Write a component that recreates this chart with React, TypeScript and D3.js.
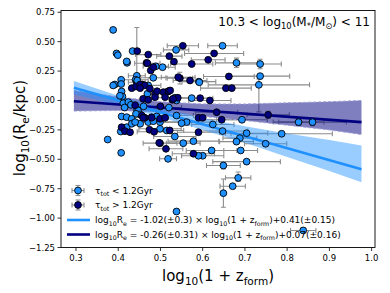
import React from 'react';
import * as d3 from 'd3';

const xTicks = [0.3, 0.4, 0.5, 0.6, 0.7, 0.8, 0.9, 1.0];
const yTicks = [0.75, 0.5, 0.25, 0, -0.25, -0.5, -0.75, -1.0, -1.25];

// [x, y, xerr, yerrDown, yerrUp]
const lightPoints: number[][] = [
  [0.388, 0.60, 0, 0, 0], [0.396, 0.40, 0, 0, 0], [0.399, 0.385, 0, 0, 0], [0.434, 0.42, 0, 0, 0],
  [0.421, 0.32, 0, 0, 0], [0.489, 0.29, 0.03, 0, 0], [0.444, 0.21, 0.02, 0.05, 0.41], [0.537, 0.43, 0.03, 0, 0],
  [0.647, 0.465, 0.035, 0, 0], [0.68, 0.32, 0.05, 0.04, 0.04], [0.736, 0.31, 0.05, 0.04, 0.04], [0.505, 0.283, 0.03, 0, 0],
  [0.42, 0.332, 0, 0, 0], [0.591, 0.16, 0.04, 0, 0], [0.736, 0.207, 0.07, 0, 0], [0.733, 0.133, 0.12, 0.23, 0.05],
  [0.483, 0.193, 0.03, 0, 0], [0.441, 0.176, 0.03, 0, 0], [0.407, 0.176, 0, 0, 0], [0.392, 0.136, 0, 0, 0],
  [0.407, 0.14, 0, 0, 0], [0.444, 0.155, 0.02, 0, 0], [0.408, 0.077, 0, 0, 0], [0.41, 0.034, 0, 0, 0],
  [0.388, 0.128, 0, 0, 0], [0.445, 0.17, 0, 0, 0], [0.471, 0.128, 0.03, 0, 0], [0.469, 0.057, 0, 0, 0],
  [0.404, 0.04, 0, 0, 0], [0.412, -0.023, 0, 0, 0], [0.424, -0.014, 0, 0, 0], [0.43, -0.037, 0, 0, 0],
  [0.445, -0.079, 0, 0, 0], [0.534, 0.023, 0.04, 0, 0], [0.538, 0.0, 0, 0, 0], [0.592, 0.155, 0, 0, 0],
  [0.574, 0.02, 0.05, 0, 0], [0.447, -0.085, 0, 0, 0], [0.452, -0.119, 0, 0, 0], [0.442, -0.113, 0, 0, 0],
  [0.408, -0.136, 0, 0, 0], [0.42, -0.142, 0, 0, 0], [0.432, -0.156, 0, 0, 0], [0.479, -0.142, 0.04, 0, 0],
  [0.491, -0.136, 0, 0, 0], [0.538, -0.128, 0.04, 0, 0], [0.452, -0.198, 0, 0, 0], [0.471, -0.184, 0, 0, 0],
  [0.483, -0.176, 0, 0, 0], [0.499, -0.184, 0.05, 0, 0], [0.562, -0.184, 0.06, 0, 0], [0.55, -0.193, 0, 0, 0],
  [0.406, -0.264, 0, 0, 0], [0.42, -0.227, 0, 0, 0], [0.432, -0.198, 0, 0, 0], [0.44, -0.184, 0, 0, 0],
  [0.499, -0.241, 0.05, 0, 0], [0.515, -0.255, 0.04, 0, 0], [0.534, -0.306, 0.05, 0, 0], [0.578, -0.346, 0.06, 0, 0],
  [0.554, -0.363, 0.04, 0, 0], [0.693, -0.164, 0.06, 0, 0], [0.827, -0.184, 0.06, 0.03, 0.03], [0.86, -0.184, 0.08, 0.03, 0.03],
  [0.787, -0.283, 0.12, 0, 0], [0.749, -0.368, 0.05, 0, 0], [0.704, -0.278, 0.05, 0, 0], [0.688, -0.32, 0.04, 0, 0],
  [0.68, -0.35, 0.04, 0, 0], [0.69, -0.425, 0.04, 0, 0], [0.704, -0.52, 0.08, 0, 0], [0.649, -0.553, 0.04, 0.03, 0.03],
  [0.684, -0.658, 0.03, 0.03, 0.05], [0.6, -0.47, 0.05, 0, 0], [0.59, -0.47, 0, 0, 0], [0.518, -0.496, 0.02, 0, 0],
  [0.407, -0.445, 0, 0, 0], [0.375, -0.332, 0, 0, 0], [0.621, -0.425, 0.06, 0, 0], [0.647, -0.26, 0.06, 0, 0],
  [0.624, -0.204, 0.05, 0, 0], [0.671, -0.729, 0.03, 0, 0], [0.649, -0.788, 0, 0.12, 0.12], [0.538, -0.944, 0, 0, 0],
  [0.838, -1.105, 0.03, 0.02, 0.02], [0.415, -0.06, 0, 0, 0], [0.46, -0.05, 0, 0, 0], [0.52, -0.06, 0.03, 0, 0],
];

const darkPoints: number[][] = [
  [0.445, 0.42, 0, 0, 0], [0.471, 0.39, 0.03, 0, 0], [0.467, 0.32, 0, 0, 0], [0.477, 0.255, 0, 0, 0],
  [0.553, 0.465, 0.037, 0, 0], [0.627, 0.40, 0.07, 0, 0], [0.521, 0.377, 0.03, 0, 0], [0.613, 0.346, 0.04, 0, 0],
  [0.532, 0.33, 0, 0, 0], [0.574, 0.31, 0.05, 0, 0], [0.469, 0.317, 0.03, 0, 0], [0.483, 0.283, 0, 0, 0],
  [0.546, 0.19, 0.03, 0.05, 0.05], [0.57, 0.17, 0.04, 0, 0], [0.662, 0.204, 0.06, 0, 0], [0.655, 0.105, 0.06, 0, 0],
  [0.669, 0.105, 0, 0, 0], [0.518, 0.077, 0, 0, 0], [0.541, 0.023, 0, 0, 0], [0.528, 0.006, 0, 0, 0],
  [0.594, 0.02, 0, 0, 0], [0.617, 0.0, 0.05, 0, 0], [0.457, 0.136, 0, 0, 0], [0.432, 0.105, 0, 0, 0],
  [0.442, 0.119, 0, 0, 0], [0.452, 0.136, 0, 0, 0], [0.463, 0.128, 0, 0, 0], [0.487, 0.057, 0, 0, 0],
  [0.492, 0.079, 0, 0, 0], [0.459, 0.014, 0, 0, 0], [0.471, 0.006, 0, 0, 0], [0.507, 0.071, 0, 0, 0],
  [0.519, 0.079, 0, 0, 0], [0.542, 0.198, 0.04, 0, 0], [0.633, -0.1, 0.05, 0, 0], [0.456, -0.128, 0, 0, 0],
  [0.463, -0.147, 0, 0, 0], [0.499, -0.156, 0, 0, 0], [0.511, -0.147, 0, 0, 0], [0.408, -0.227, 0, 0, 0],
  [0.416, -0.261, 0, 0, 0], [0.428, -0.27, 0, 0, 0], [0.474, -0.249, 0, 0, 0], [0.485, -0.266, 0.04, 0, 0],
  [0.499, -0.363, 0.04, 0, 0], [0.513, -0.411, 0.04, 0, 0], [0.578, -0.453, 0.05, 0, 0], [0.522, -0.255, 0, 0, 0],
  [0.59, -0.27, 0.05, 0, 0], [0.59, -0.147, 0, 0, 0], [0.6, -0.147, 0, 0, 0], [0.645, -0.164, 0.05, 0, 0],
  [0.755, -0.122, 0.05, 0.03, 0.03], [0.459, -0.147, 0, 0, 0], [0.479, -0.147, 0, 0, 0], [0.523, 0.085, 0, 0, 0],
  [0.487, 0.028, 0, 0, 0], [0.511, 0.028, 0, 0, 0], [0.53, 0.014, 0, 0, 0], [0.452, 0.105, 0, 0, 0],
  [0.475, 0.1, 0, 0, 0], [0.5, -0.05, 0, 0, 0], [0.44, -0.04, 0, 0, 0], [0.497, -0.36, 0, 0, 0],
];

const fitSlopes = [-1.02, -0.26];
const fitIntercepts = [0.41, 0.07];
const fitRange = [0.295, 0.976];

const bandX = [0.295, 0.4, 0.5, 0.6, 0.7, 0.8, 0.9, 0.976];
const lightHi = [0.165, 0.04, -0.06, -0.15, -0.22, -0.28, -0.335, -0.383];
const lightLo = [0.05, -0.04, -0.14, -0.25, -0.36, -0.48, -0.6, -0.695];
const darkHi = [0.085, 0.03, -0.01, -0.03, -0.03, -0.02, -0.01, 0.0];
const darkLo = [-0.09, -0.085, -0.1, -0.135, -0.17, -0.21, -0.25, -0.29];

const LIGHT = '#1E90FF';
const DARK = '#000080';
const FONT = 'DejaVu Sans';

type Part = [string, string];

function Rich({ x, y, parts, size, anchor = 'start', transform }: { x: number; y: number; parts: Part[]; size: number; anchor?: string; transform?: string }) {
  let cur = 0;
  return (
    <text x={x} y={y} fontSize={size} fontFamily={FONT} textAnchor={anchor} transform={transform} style={{ whiteSpace: 'pre' }}>
      {parts.map(([t, k], i) => {
        const target = k === 's' ? size * 0.28 : 0;
        const dy = target - cur;
        cur = target;
        return (
          <tspan key={i} dy={dy} fontSize={k === 's' ? size * 0.7 : size} fontStyle={k === 'i' ? 'italic' : 'normal'}>{t}</tspan>
        );
      })}
    </text>
  );
}

export default function App() {
  const W = 390, H = 293;
  const x = d3.scaleLinear().domain([0.2645, 1.008]).range([61, 375]);
  const y = d3.scaleLinear().domain([-1.25, 0.765]).range([247.5, 10.5]);

  const area = (lo: number[], hi: number[]) =>
    d3.area<number>().x((d) => x(d)).y0((_, i) => y(lo[i])).y1((_, i) => y(hi[i]))(bandX) || '';
  const edge = (v: number[]) => d3.line<number>().x((d) => x(d)).y((_, i) => y(v[i]))(bandX) || '';

  const renderErr = (pts: number[][]) => (
    <g stroke="#8c8c8c" strokeWidth={1.1}>
      {pts.map((p, i) => (
        <g key={'e' + i}>
          {p[2] > 0 && (
            <g>
              <line x1={x(p[0] - p[2])} x2={x(p[0] + p[2])} y1={y(p[1])} y2={y(p[1])} />
              <line x1={x(p[0] - p[2])} x2={x(p[0] - p[2])} y1={y(p[1]) - 2.5} y2={y(p[1]) + 2.5} />
              <line x1={x(p[0] + p[2])} x2={x(p[0] + p[2])} y1={y(p[1]) - 2.5} y2={y(p[1]) + 2.5} />
            </g>
          )}
          {(p[3] > 0 || p[4] > 0) && (
            <g>
              <line x1={x(p[0])} x2={x(p[0])} y1={y(p[1] - p[3])} y2={y(p[1] + p[4])} />
              <line x1={x(p[0]) - 2.5} x2={x(p[0]) + 2.5} y1={y(p[1] - p[3])} y2={y(p[1] - p[3])} />
              <line x1={x(p[0]) - 2.5} x2={x(p[0]) + 2.5} y1={y(p[1] + p[4])} y2={y(p[1] + p[4])} />
            </g>
          )}
        </g>
      ))}
    </g>
  );
  const renderDots = (pts: number[][], fill: string) => (
    <g>
      {pts.map((p, i) => (
        <circle key={'c' + i} cx={x(p[0])} cy={y(p[1])} r={3.4} fill={fill} stroke="#000" strokeWidth={0.9} />
      ))}
    </g>
  );

  const fitLine = (k: number) => {
    const f = (v: number) => fitSlopes[k] * v + fitIntercepts[k];
    return d3.line<number>().x((d) => x(d)).y((d) => y(f(d)))(fitRange) || '';
  };

  const legendMarker = (cx: number, cy: number, fill: string) => (
    <g>
      <g stroke="#8c8c8c" strokeWidth={1.1}>
        <line x1={cx - 6} x2={cx + 6} y1={cy} y2={cy} />
        <line x1={cx - 6} x2={cx - 6} y1={cy - 2.5} y2={cy + 2.5} />
        <line x1={cx + 6} x2={cx + 6} y1={cy - 2.5} y2={cy + 2.5} />
        <line x1={cx} x2={cx} y1={cy - 5} y2={cy + 5} />
        <line x1={cx - 2.5} x2={cx + 2.5} y1={cy - 5} y2={cy - 5} />
        <line x1={cx - 2.5} x2={cx + 2.5} y1={cy + 5} y2={cy + 5} />
      </g>
      <circle cx={cx} cy={cy} r={3.4} fill={fill} stroke="#000" strokeWidth={0.9} />
    </g>
  );

  const eq1: Part[] = [['log', 'n'], ['10', 's'], ['R', 'n'], ['e', 's'], [' = -1.02(±0.3) × log', 'n'], ['10', 's'], ['(1 + z', 'n'], ['form', 's'], [')+0.41(±0.15)', 'n']];
  const eq2: Part[] = [['log', 'n'], ['10', 's'], ['R', 'n'], ['e', 's'], [' = -0.26(±0.31) × log', 'n'], ['10', 's'], ['(1 + z', 'n'], ['form', 's'], [')+0.07(±0.16)', 'n']];

  return (
    <div style={{ position: 'fixed', left: 0, top: 0 }}>
      <svg width={W} height={H} style={{ display: 'block', background: '#fff' }}>
        <defs>
          <clipPath id="plotclip">
            <rect x={61} y={10.5} width={314} height={237} />
          </clipPath>
        </defs>
        <g clipPath="url(#plotclip)">
          {renderErr(lightPoints)}
          {renderErr(darkPoints)}
          <path d={area(darkLo, darkHi)} fill={DARK} fillOpacity={0.5} />
          <path d={edge(darkLo)} fill="none" stroke="#a0a0d8" strokeWidth={1} strokeDasharray="3,2" />
          <path d={edge(darkHi)} fill="none" stroke="#a0a0d8" strokeWidth={1} strokeDasharray="3,2" />
          <path d={area(lightLo, lightHi)} fill={LIGHT} fillOpacity={0.45} />
          <path d={fitLine(1)} fill="none" stroke={DARK} strokeWidth={2.6} />
          <path d={fitLine(0)} fill="none" stroke={LIGHT} strokeWidth={2.6} />
          {renderDots(lightPoints, LIGHT)}
          {renderDots(darkPoints, DARK)}
        </g>
        <rect x={61} y={10.5} width={314} height={237} fill="none" stroke="#000" strokeWidth={0.9} />
        {xTicks.map((t) => (
          <g key={'xt' + t}>
            <line x1={x(t)} x2={x(t)} y1={247.5} y2={251} stroke="#000" strokeWidth={0.8} />
            <text x={x(t)} y={261} fontSize={8.5} fontFamily={FONT} textAnchor="middle">{d3.format('.1f')(t)}</text>
          </g>
        ))}
        {yTicks.map((t) => (
          <g key={'yt' + t}>
            <line x1={57.5} x2={61} y1={y(t)} y2={y(t)} stroke="#000" strokeWidth={0.8} />
            <text x={55} y={y(t) + 3} fontSize={8.5} fontFamily={FONT} textAnchor="end">{d3.format('.2f')(t)}</text>
          </g>
        ))}
        <Rich x={218} y={281} size={15} anchor="middle" parts={[['log', 'n'], ['10', 's'], ['(1 + z', 'n'], ['form', 's'], [')', 'n']]} />
        <Rich x={0} y={0} size={15} anchor="middle" transform="translate(25,128) rotate(-90)" parts={[['log', 'n'], ['10', 's'], ['(R', 'n'], ['e', 's'], ['/kpc)', 'n']]} />
        <Rich x={370} y={26} size={12} anchor="end" parts={[['10.3 < log', 'n'], ['10', 's'], ['(M', 'n'], ['*', 's'], ['/M', 'n'], ['⊙', 's'], [') < 11', 'n']]} />
        {legendMarker(78, 190.5, LIGHT)}
        {legendMarker(78, 205, DARK)}
        <line x1={67} x2={90} y1={220} y2={220} stroke={LIGHT} strokeWidth={2.6} />
        <line x1={67} x2={90} y1={234.5} y2={234.5} stroke={DARK} strokeWidth={2.6} />
        <Rich x={95} y={193.5} size={9} parts={[['τ', 'n'], ['tot', 's'], [' < 1.2Gyr', 'n']]} />
        <Rich x={95} y={208} size={9} parts={[['τ', 'n'], ['tot', 's'], [' > 1.2Gyr', 'n']]} />
        <Rich x={95} y={223} size={9} parts={eq1} />
        <Rich x={95} y={237.5} size={9} parts={eq2} />
      </svg>
    </div>
  );
}
